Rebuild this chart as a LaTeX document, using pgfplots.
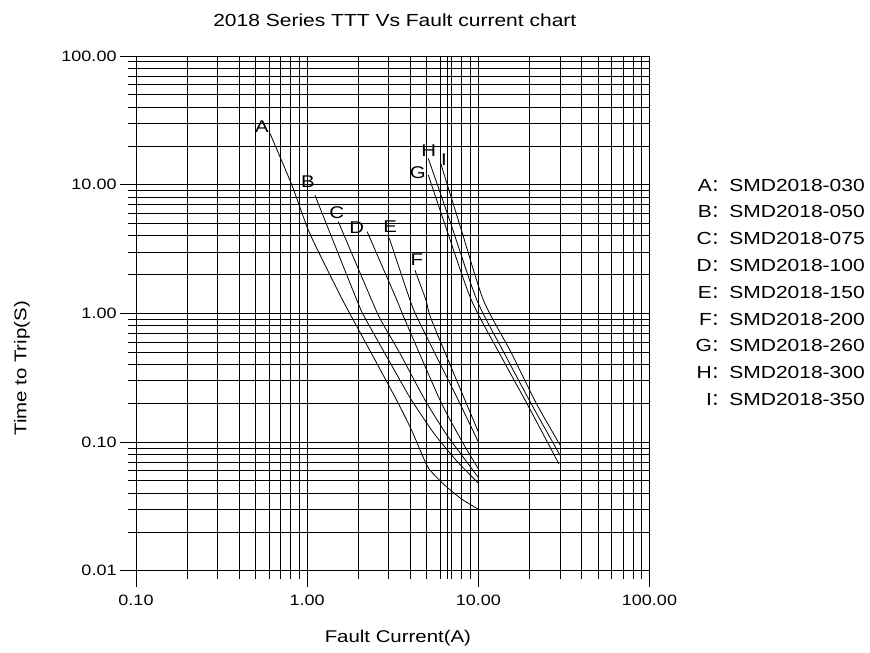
\documentclass[border=0pt]{standalone}
\usepackage{fontspec}
\setmainfont{Liberation Sans}[FakeStretch=1.2]
\newfontfamily\cjk{Noto Sans CJK SC}
\usepackage{pgfplots}
\pgfplotsset{compat=1.18}

\pgfplotstableread{
x y
0.606 25.1
0.812 10
1.015 4.45
1.27 2.38
1.61 1.27
1.86 0.889
2.5 0.43
3.33 0.212
4.07 0.124
5.0 0.066
5.5 0.056
6.5 0.045
8.0 0.036
10 0.030
}\curveA
\pgfplotstableread{
x y
1.11 8.3
1.95 1.27
2.21 0.889
3.48 0.304
4.07 0.212
5.5 0.117
7.5 0.071
10 0.048
}\curveB
\pgfplotstableread{
x y
1.52 5.16
2.38 1.27
2.69 0.889
3.48 0.49
4.88 0.212
6.5 0.115
8.0 0.079
10 0.053
}\curveC
\pgfplotstableread{
x y
2.24 4.32
3.34 1.27
3.73 0.889
5.97 0.212
8.0 0.102
10 0.062
}\curveD
\pgfplotstableread{
x y
3.02 3.83
3.99 1.27
4.46 0.889
7.63 0.212
10 0.10
}\curveE
\pgfplotstableread{
x y
4.26 2.17
4.94 1.27
5.33 0.889
8.35 0.212
10 0.12
}\curveF
\pgfplotstableread{
x y
5.1 11.9
6.6 4.3
9.1 1.27
13.5 0.47
19.2 0.2
29.5 0.068
}\curveG
\pgfplotstableread{
x y
5.1 16.0
6.8 5.3
9.8 1.27
14.3 0.48
20.3 0.2
30 0.079
}\curveH
\pgfplotstableread{
x y
6.02 14.7
7.9 4.6
10.7 1.27
15.5 0.5
21.8 0.2
30 0.095
}\curveI

\begin{document}
\begin{tikzpicture}[x=1pt,y=1pt]
\path[use as bounding box] (0,0) rectangle (870,653);
\begin{axis}[
  at={(136pt,82.3pt)}, anchor=south west,
  scale only axis, width=513.5pt, height=514.7pt,
  xmode=log, ymode=log,
  xmin=0.1, xmax=100, ymin=0.01, ymax=100,
  axis line style={draw=none},
  xtick={0.1,1,10,100}, xticklabels={0.10,1.00,10.00,100.00},
  ytick={0.01,0.1,1,10,100}, yticklabels={0.01,0.10,1.00,10.00,100.00},
  minor xtick={0.2,0.3,0.4,0.5,0.6,0.7,0.8,0.9,2,3,4,5,6,7,8,9,20,30,40,50,60,70,80,90},
  minor ytick={0.02,0.03,0.04,0.05,0.06,0.07,0.08,0.09,0.2,0.3,0.4,0.5,0.6,0.7,0.8,0.9,2,3,4,5,6,7,8,9,20,30,40,50,60,70,80,90},
  extra x ticks={6.62}, extra x tick labels={},
  extra x tick style={major tick length=8.5pt},
  grid=both,
  major grid style={black, line width=0.8pt},
  minor grid style={black, line width=0.8pt},
  tick pos=left, tick align=outside,
  major tick length=16pt, minor tick length=8.5pt,
  tick style={black, line width=0.8pt},
  tick label style={font=\fontsize{15}{18}\selectfont},
  xticklabel style={yshift=-5pt},
  clip=false,
  title={2018 Series TTT Vs Fault current chart},
  title style={at={(axis description cs:0.504,1.058)}, anchor=center, font=\fontsize{17.5}{20}\selectfont},
  xlabel={Fault Current(A)},
  xlabel style={at={(axis description cs:0.510,-0.131)}, anchor=center, font=\fontsize{17}{20}\selectfont},
  ylabel={Time to Trip(S)},
  ylabel style={at={(axis description cs:-0.222,0.393)}, anchor=center, font=\fontsize{17}{20}\selectfont},
  cycle list={{black, solid, line width=0.8pt, mark=none}},
]
\addplot[black, solid, line width=0.8pt, no marks, smooth, tension=0.4] table[x=x,y=y] {\curveA};
\addplot[black, solid, line width=0.8pt, no marks, smooth, tension=0.4] table[x=x,y=y] {\curveB};
\addplot[black, solid, line width=0.8pt, no marks, smooth, tension=0.4] table[x=x,y=y] {\curveC};
\addplot[black, solid, line width=0.8pt, no marks, smooth, tension=0.4] table[x=x,y=y] {\curveD};
\addplot[black, solid, line width=0.8pt, no marks, smooth, tension=0.4] table[x=x,y=y] {\curveE};
\addplot[black, solid, line width=0.8pt, no marks, smooth, tension=0.4] table[x=x,y=y] {\curveF};
\addplot[black, solid, line width=0.8pt, no marks, smooth, tension=0.4] table[x=x,y=y] {\curveG};
\addplot[black, solid, line width=0.8pt, no marks, smooth, tension=0.4] table[x=x,y=y] {\curveH};
\addplot[black, solid, line width=0.8pt, no marks, smooth, tension=0.4] table[x=x,y=y] {\curveI};

\begin{scope}[every node/.style={font=\fontsize{17}{20}\selectfont, inner sep=0pt}]
\node at (axis cs:0.545,28) {A};
\node at (axis cs:1.01,10.5) {B};
\node at (axis cs:1.49,6.03) {C};
\node at (axis cs:1.95,4.61) {D};
\node at (axis cs:3.05,4.69) {E};
\node at (axis cs:4.38,2.60) {F};
\node at (axis cs:4.43,12.3) {G};
\node at (axis cs:5.14,18.3) {H};
\node at (axis cs:6.30,15.6) {I};
\end{scope}

\begin{scope}[every node/.style={font=\fontsize{17.5}{20}\selectfont, anchor=east, inner sep=0pt}]
\node at (axis description cs:1.4196,0.7494) {A{\cjk ：}SMD2018-030};
\node at (axis description cs:1.4196,0.6973) {B{\cjk ：}SMD2018-050};
\node at (axis description cs:1.4196,0.6452) {C{\cjk ：}SMD2018-075};
\node at (axis description cs:1.4196,0.5931) {D{\cjk ：}SMD2018-100};
\node at (axis description cs:1.4196,0.5410) {E{\cjk ：}SMD2018-150};
\node at (axis description cs:1.4196,0.4889) {F{\cjk ：}SMD2018-200};
\node at (axis description cs:1.4196,0.4368) {G{\cjk ：}SMD2018-260};
\node at (axis description cs:1.4196,0.3847) {H{\cjk ：}SMD2018-300};
\node at (axis description cs:1.4196,0.3326) {I{\cjk ：}SMD2018-350};
\end{scope}
\end{axis}
\end{tikzpicture}
\end{document}
